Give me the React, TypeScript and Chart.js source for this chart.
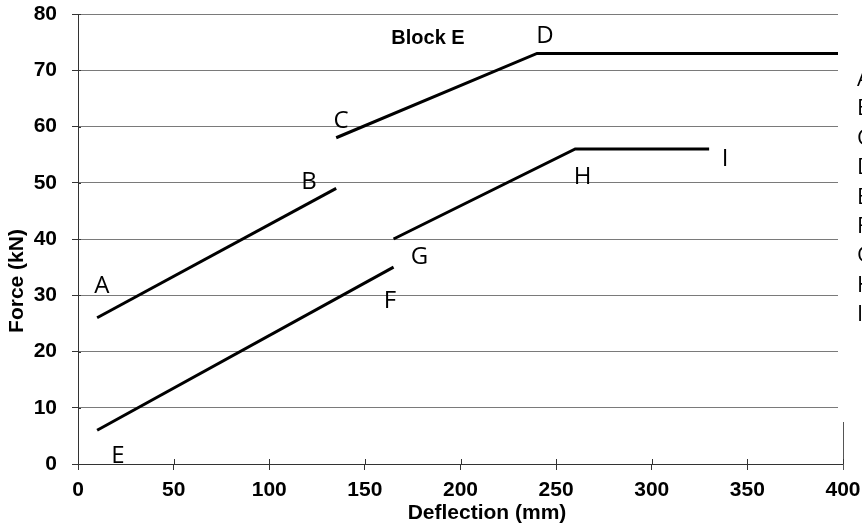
import React, { useEffect, useRef } from "react";
import { Chart, registerables } from "chart.js";

Chart.register(...registerables);

// Series (deflection mm, force kN)
const abX = [10, 135];
const abY = [26, 49];
const cdX = [135, 240, 400];
const cdY = [58, 73, 73];
const efX = [10, 165];
const efY = [6, 35];
const ghiX = [165, 260, 330];
const ghiY = [40, 56, 56];

// Point labels (text, deflection, force)
const pointLabels = ["A", "B", "C", "D", "E", "F", "G", "H", "I"];
const pointLabelX = [12.5, 120.8, 137.5, 244.2, 20.9, 163.1, 178.6, 263.8, 338.3];
const pointLabelY = [30.4, 48.9, 59.7, 74.8, 0.2, 27.8, 35.6, 49.8, 53.0];

const blockTitle = "Block E";
const blockTitleX = 183;
const blockTitleY = 74.7;

const sideLetters = ["A", "B", "C", "D", "E", "F", "G", "H", "I"];

const xTitle = "Deflection (mm)";
const yTitle = "Force (kN)";

const toPoints = (xs: number[], ys: number[]) => xs.map((x, i) => ({ x, y: ys[i] }));

const BOLD = "'Liberation Sans', Arial, sans-serif";
const LABEL = "'Open Sans', 'Noto Sans', sans-serif";

export default function App() {
  const ref = useRef<HTMLCanvasElement | null>(null);

  useEffect(() => {
    if (!ref.current) return;
    const overlay = {
      id: "overlay",
      afterDraw(chart: any) {
        const { ctx, chartArea, scales } = chart;
        const xs = scales.x;
        const ys = scales.y;
        ctx.save();
        // right border
        ctx.strokeStyle = "#555";
        ctx.lineWidth = 1;
        ctx.beginPath();
        ctx.moveTo(chartArea.right + 0.5, chartArea.top);
        ctx.lineTo(chartArea.right + 0.5, chartArea.bottom + 6);
        ctx.stroke();
        // crossing tick parts
        ctx.strokeStyle = "#333";
        xs.ticks.forEach((t: any) => {
          const px = Math.round(xs.getPixelForValue(t.value)) + 0.5;
          ctx.beginPath();
          ctx.moveTo(px, chartArea.bottom - 5);
          ctx.lineTo(px, chartArea.bottom);
          ctx.stroke();
        });
        ys.ticks.forEach((t: any) => {
          const py = Math.round(ys.getPixelForValue(t.value)) + 0.5;
          ctx.beginPath();
          ctx.moveTo(chartArea.left, py);
          ctx.lineTo(chartArea.left + 3, py);
          ctx.stroke();
        });
        // white side box (cropped legend area)
        ctx.fillStyle = "#fff";
        ctx.fillRect(838, 0, chart.width - 838, 422);
        ctx.fillStyle = "#000";
        ctx.font = `22px ${LABEL}`;
        ctx.textAlign = "left";
        ctx.textBaseline = "alphabetic";
        sideLetters.forEach((s, i) => {
          ctx.fillText(s, 857, 86 + i * 29.4);
        });
        // point labels
        ctx.font = `24px ${LABEL}`;
        ctx.textAlign = "center";
        pointLabels.forEach((s, i) => {
          ctx.fillText(s, xs.getPixelForValue(pointLabelX[i]), ys.getPixelForValue(pointLabelY[i]));
        });
        ctx.font = `bold 20px ${BOLD}`;
        ctx.fillText(blockTitle, xs.getPixelForValue(blockTitleX), ys.getPixelForValue(blockTitleY));
        // axis titles
        ctx.font = `bold 21px ${BOLD}`;
        ctx.textBaseline = "middle";
        ctx.fillText(xTitle, 487, 513);
        ctx.save();
        ctx.translate(17, 281);
        ctx.rotate(-Math.PI / 2);
        ctx.fillText(yTitle, 0, 0);
        ctx.restore();
        ctx.restore();
      },
    };

    const lineDs = (xs: number[], ys: number[]) => ({
      data: toPoints(xs, ys),
      showLine: true,
      borderColor: "#000",
      backgroundColor: "#000",
      borderWidth: 3,
      pointRadius: 0,
      borderCapStyle: "butt" as const,
      tension: 0,
    });

    const chart = new Chart(ref.current, {
      type: "scatter",
      data: {
        datasets: [lineDs(abX, abY), lineDs(cdX, cdY), lineDs(efX, efY), lineDs(ghiX, ghiY)],
      },
      options: {
        responsive: false,
        animation: false,
        layout: { padding: { left: 0, top: 14, right: 19, bottom: 0 } },
        plugins: { legend: { display: false }, tooltip: { enabled: false } },
        scales: {
          x: {
            type: "linear",
            min: 0,
            max: 400,
            ticks: {
              stepSize: 50,
              color: "#000",
              padding: 8,
              maxRotation: 0,
              font: { family: BOLD, size: 21, weight: "bold" },
            },
            grid: {
              display: true,
              drawOnChartArea: false,
              drawTicks: true,
              tickLength: 6,
              tickColor: "#333",
            },
            border: { color: "#333", width: 1 },
            afterFit(scale: any) {
              scale.height = 64;
              scale.paddingLeft = 0;
              scale.paddingRight = 0;
            },
          },
          y: {
            type: "linear",
            min: 0,
            max: 80,
            ticks: {
              stepSize: 10,
              color: "#000",
              padding: 15,
              font: { family: BOLD, size: 21, weight: "bold" },
            },
            grid: {
              display: true,
              drawOnChartArea: true,
              drawTicks: true,
              tickLength: 6,
              color: "#7a7a7a",
              tickColor: "#333",
            },
            border: { color: "#333", width: 1 },
            afterFit(scale: any) {
              scale.width = 78;
              scale.paddingTop = 0;
              scale.paddingBottom = 0;
            },
          },
        },
      },
      plugins: [overlay],
    });
    return () => chart.destroy();
  }, []);

  return (
    <div style={{ position: "fixed", left: 0, top: 0, width: 862, height: 528, background: "#fff" }}>
      <canvas ref={ref} width={862} height={528} style={{ display: "block" }} />
    </div>
  );
}
